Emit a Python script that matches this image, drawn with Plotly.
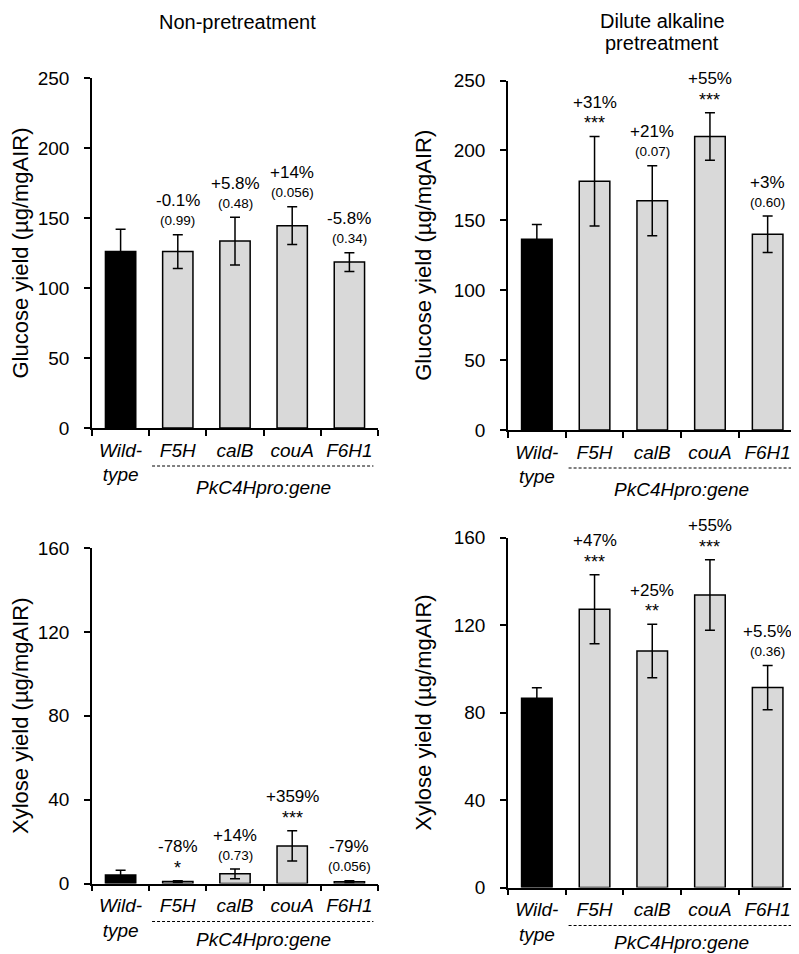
import plotly.graph_objects as go

# The page body keeps an 8px margin, so the figure is laid out 8px in from the window edge.
PAGE_W, PAGE_H = 799, 954
OFF = 8
W, H = PAGE_W - OFF, PAGE_H - OFF
FONT = "Liberation Sans, Arial, sans-serif"

categories = ["Wild-type", "F5H", "calB", "couA", "F6H1"]
tick_text = ["<i>Wild-</i><br><i>type</i>", "<i>F5H</i>", "<i>calB</i>", "<i>couA</i>", "<i>F6H1</i>"]
x_pos = [0, 1, 2, 3, 4]

# Glucose yield, non-pretreatment
glucose_non = [126, 126, 133.5, 144.5, 118.5]
glucose_non_err = [16, 12, 17, 13.5, 6.7]
glucose_non_pct = ["", "-0.1%", "+5.8%", "+14%", "-5.8%"]
glucose_non_sig = ["", "(0.99)", "(0.48)", "(0.056)", "(0.34)"]

# Glucose yield, dilute alkaline pretreatment
glucose_alk = [136.5, 178, 164, 210, 140]
glucose_alk_err = [10.5, 32, 25, 17, 13]
glucose_alk_pct = ["", "+31%", "+21%", "+55%", "+3%"]
glucose_alk_sig = ["", "***", "(0.07)", "***", "(0.60)"]

# Xylose yield, non-pretreatment
xylose_non = [4.1, 0.9, 4.6, 17.9, 0.85]
xylose_non_err = [2.2, 0.4, 2.3, 7.2, 0.45]
xylose_non_pct = ["", "-78%", "+14%", "+359%", "-79%"]
xylose_non_sig = ["", "*", "(0.73)", "***", "(0.056)"]

# Xylose yield, dilute alkaline pretreatment
xylose_alk = [86.5, 127.2, 108.1, 133.7, 91.4]
xylose_alk_err = [4.8, 15.8, 12.2, 16.1, 10.1]
xylose_alk_pct = ["", "+47%", "+25%", "+55%", "+5.5%"]
xylose_alk_sig = ["", "***", "**", "***", "(0.36)"]

bar_colors = ["#000000", "#d9d9d9", "#d9d9d9", "#d9d9d9", "#d9d9d9"]


def px_dom_x(a, b):
    return [(a - OFF) / W, (b - OFF) / W]


def px_dom_y(top, bottom):
    return [1 - (bottom - OFF) / H, 1 - (top - OFF) / H]


def py(page_y):
    return 1 - (page_y - OFF) / H


def px(page_x):
    return (page_x - OFF) / W


panels = [
    dict(ax="", vals=glucose_non, err=glucose_non_err, pct=glucose_non_pct, sig=glucose_non_sig,
         ymax=250, dtick=50, ytitle="Glucose yield (µg/mgAIR)", standoff=11, grp_shift=-60,
         dx=px_dom_x(92, 378), dy=px_dom_y(78, 428)),
    dict(ax="2", vals=glucose_alk, err=glucose_alk_err, pct=glucose_alk_pct, sig=glucose_alk_sig,
         ymax=250, dtick=50, ytitle="Glucose yield (µg/mgAIR)", standoff=16, grp_shift=-60,
         dx=px_dom_x(508, 796.5), dy=px_dom_y(80.5, 430)),
    dict(ax="3", vals=xylose_non, err=xylose_non_err, pct=xylose_non_pct, sig=xylose_non_sig,
         ymax=160, dtick=40, ytitle="Xylose yield (µg/mgAIR)", standoff=11, grp_shift=-56,
         dx=px_dom_x(92, 378), dy=px_dom_y(548, 883.5)),
    dict(ax="4", vals=xylose_alk, err=xylose_alk_err, pct=xylose_alk_pct, sig=xylose_alk_sig,
         ymax=160, dtick=40, ytitle="Xylose yield (µg/mgAIR)", standoff=16, grp_shift=-55,
         dx=px_dom_x(508, 796.5), dy=px_dom_y(537.5, 887.5)),
]

fig = go.Figure()
annotations = []
shapes = []
layout = {}

for p in panels:
    a = p["ax"]
    xref, yref = "x" + a, "y" + a
    fig.add_trace(go.Bar(
        x=x_pos, y=p["vals"], width=0.53,
        marker=dict(color=bar_colors, line=dict(color="black", width=1.5)),
        error_y=dict(type="data", array=p["err"], visible=True, color="black",
                     thickness=1.5, width=5),
        xaxis=xref, yaxis=yref, showlegend=False, hoverinfo="skip",
    ))
    layout["xaxis" + a] = dict(
        domain=p["dx"], anchor=yref, range=[-0.5, 4.5], automargin=False,
        tickmode="array", tickvals=x_pos, ticktext=tick_text, ticks="",
        tickfont=dict(family=FONT, size=19, color="black"),
        ticklabelstandoff=4,
        minor=dict(tickmode="array", tickvals=[-0.5, 0.5, 1.5, 2.5, 3.5, 4.5],
                   ticks="outside", ticklen=6, tickwidth=1.5, tickcolor="black"),
        showline=True, linecolor="black", linewidth=1.5,
        showgrid=False, zeroline=False, fixedrange=True,
    )
    layout["yaxis" + a] = dict(
        domain=p["dy"], anchor=xref, range=[0, p["ymax"]], automargin=False,
        tickmode="linear", tick0=0, dtick=p["dtick"],
        ticks="outside", ticklen=6, tickwidth=1.5, tickcolor="black",
        tickfont=dict(family=FONT, size=19, color="black"),
        ticklabelstandoff=11,
        showline=True, linecolor="black", linewidth=1.5,
        showgrid=False, zeroline=False, fixedrange=True,
        title=dict(text=p["ytitle"], font=dict(family=FONT, size=22, color="black"),
                   standoff=p["standoff"]),
    )
    # significance annotations above error bars
    for i in x_pos:
        if not p["pct"][i]:
            continue
        top = p["vals"][i] + p["err"][i]
        is_star = p["sig"][i].startswith("*")
        annotations.append(dict(
            x=i, y=top, xref=xref, yref=yref, text=p["sig"][i], showarrow=False,
            yanchor="middle", yshift=14 if not is_star else 13,
            font=dict(family=FONT, size=18 if is_star else 13.5, color="black"),
        ))
        annotations.append(dict(
            x=i, y=top, xref=xref, yref=yref, text=p["pct"][i], showarrow=False,
            yanchor="middle", yshift=34,
            font=dict(family=FONT, size=17, color="black"),
        ))
    # group label for transgenic lines
    plot_h = (p["dy"][1] - p["dy"][0]) * H
    shapes.append(dict(
        type="line", xref=xref + " domain", yref=yref + " domain",
        x0=(0.55 + 0.5) / 5, x1=(4.42 + 0.5) / 5,
        y0=-38 / plot_h, y1=-38 / plot_h,
        line=dict(color="black", width=1, dash="3px,2px"),
    ))
    annotations.append(dict(
        x=2.5, y=0, xref=xref, yref=yref + " domain", yanchor="middle", yshift=p["grp_shift"],
        text="<i>PkC4Hpro:gene</i>", showarrow=False,
        font=dict(family=FONT, size=19, color="black"),
    ))

# panel titles
annotations.append(dict(
    x=px(237.5), y=py(22), xref="paper", yref="paper", text="Non-pretreatment",
    showarrow=False, xanchor="center", yanchor="middle",
    font=dict(family=FONT, size=20, color="black"),
))
annotations.append(dict(
    x=px(662), y=py(21), xref="paper", yref="paper", text="Dilute alkaline",
    showarrow=False, xanchor="center", yanchor="middle",
    font=dict(family=FONT, size=20, color="black"),
))
annotations.append(dict(
    x=px(662), y=py(43), xref="paper", yref="paper", text="pretreatment",
    showarrow=False, xanchor="center", yanchor="middle",
    font=dict(family=FONT, size=20, color="black"),
))

fig.update_layout(
    width=W, height=H,
    margin=dict(l=0, r=0, t=0, b=0, autoexpand=False),
    paper_bgcolor="white", plot_bgcolor="white",
    showlegend=False, bargap=0.47,
    annotations=annotations, shapes=shapes,
    font=dict(family=FONT, color="black"),
    **layout,
)

fig.write_html("out.html")
